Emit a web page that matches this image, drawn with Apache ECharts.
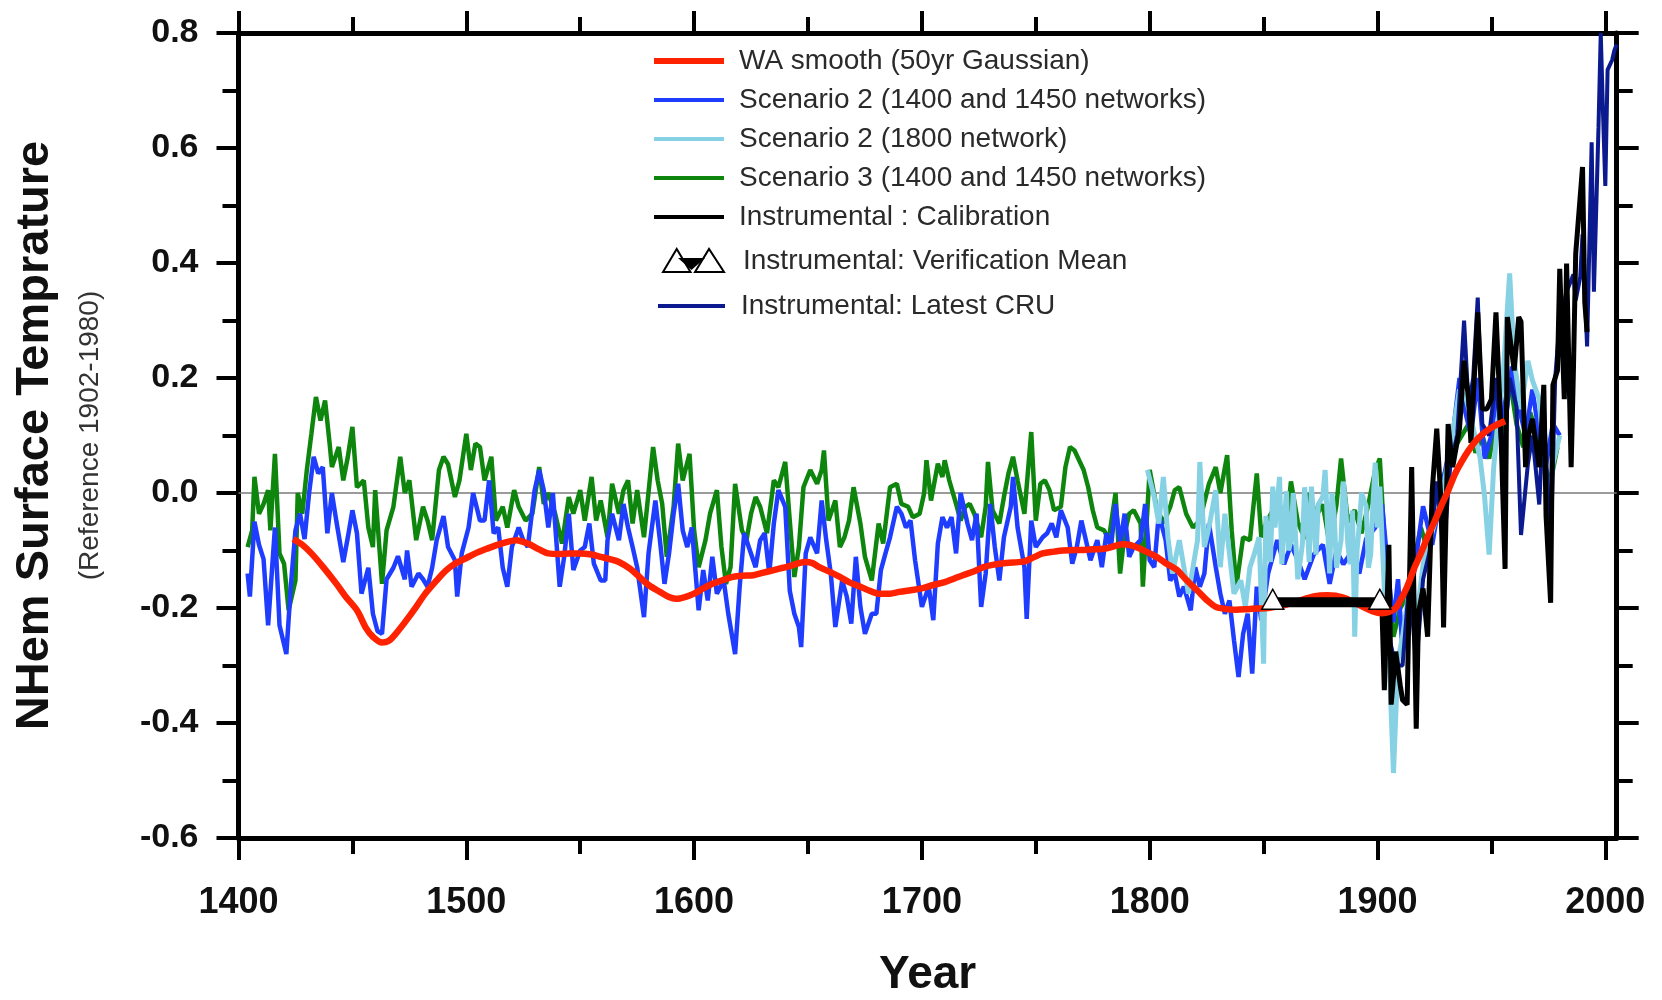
<!DOCTYPE html>
<html>
  <head>
    <meta charset="utf-8" />
    <title>NHem Surface Temprature</title>
    <script src="https://cdn.jsdelivr.net/npm/echarts@6/dist/echarts.min.js"></script>
    <style>
      * {
        margin: 0;
        padding: 0;
        box-sizing: border-box;
      }
      body {
        background: #fff;
      }
    </style>
  </head>
  <body>
    <div id="main" style="width: 1662px; height: 1000px"></div>
    <script type="text/javascript">
      // 数据: [year, value]
      const waSmooth = [
        [1424, -0.08], [1428, -0.09], [1432, -0.105], [1437, -0.128], [1443, -0.158], [1447, -0.18],
        [1452, -0.204], [1456, -0.235], [1459, -0.25], [1463, -0.26], [1466, -0.257], [1469, -0.245],
        [1473, -0.225], [1478, -0.198], [1482, -0.175], [1487, -0.152], [1491, -0.135], [1495, -0.123],
        [1500, -0.113], [1504, -0.105], [1509, -0.097], [1513, -0.091], [1518, -0.085], [1522, -0.082],
        [1527, -0.088], [1532, -0.098], [1536, -0.105], [1541, -0.106], [1545, -0.105], [1550, -0.105],
        [1555, -0.107], [1559, -0.111], [1563, -0.115], [1567, -0.12], [1572, -0.132], [1576, -0.146],
        [1580, -0.16], [1585, -0.172], [1589, -0.181], [1592, -0.184], [1596, -0.181], [1600, -0.175],
        [1604, -0.166], [1608, -0.158], [1613, -0.151], [1617, -0.146], [1621, -0.144], [1626, -0.143],
        [1630, -0.139], [1635, -0.134], [1639, -0.13], [1643, -0.126], [1646, -0.122], [1649, -0.12],
        [1652, -0.122], [1655, -0.129], [1660, -0.138], [1664, -0.146], [1668, -0.155], [1673, -0.163],
        [1677, -0.17], [1681, -0.175], [1686, -0.175], [1690, -0.172], [1695, -0.169], [1700, -0.166],
        [1705, -0.16], [1710, -0.155], [1714, -0.149], [1718, -0.143], [1723, -0.136], [1727, -0.129],
        [1731, -0.125], [1736, -0.122], [1740, -0.121], [1745, -0.119], [1749, -0.112], [1753, -0.105],
        [1758, -0.102], [1762, -0.1], [1767, -0.099], [1771, -0.099], [1775, -0.098], [1780, -0.097],
        [1784, -0.093], [1788, -0.089], [1791, -0.09], [1794, -0.094], [1798, -0.101], [1803, -0.111],
        [1807, -0.122], [1812, -0.134], [1816, -0.151], [1821, -0.17], [1825, -0.186], [1829, -0.198],
        [1834, -0.202], [1838, -0.203], [1843, -0.202], [1847, -0.201], [1852, -0.2], [1858, -0.196],
        [1865, -0.188], [1872, -0.18], [1878, -0.178], [1885, -0.182], [1892, -0.195], [1898, -0.206],
        [1902, -0.209], [1905, -0.207], [1908, -0.2], [1910, -0.187], [1913, -0.163], [1916, -0.132],
        [1919, -0.105], [1922, -0.076], [1925, -0.05], [1928, -0.022], [1931, 0.004], [1934, 0.033],
        [1937, 0.055], [1940, 0.074], [1943, 0.09], [1946, 0.102], [1949, 0.111], [1952, 0.118],
        [1956, 0.125],
      ];

      const scen2Early = [
        [1404, -0.14], [1405, -0.18], [1407, -0.05], [1409, -0.09], [1411, -0.115], [1413, -0.23],
        [1416, -0.06], [1418, -0.23], [1421, -0.28], [1423, -0.16], [1425, -0.065], [1427, -0.036],
        [1429, -0.08], [1431, 0.0], [1433, 0.063], [1435, 0.034], [1437, 0.045], [1439, -0.07],
        [1441, 0.0], [1443, -0.05], [1446, -0.12], [1448, -0.077], [1450, -0.03], [1452, -0.07],
        [1454, -0.175], [1457, -0.13], [1459, -0.21], [1461, -0.24], [1463, -0.245], [1465, -0.15],
        [1468, -0.13], [1470, -0.11], [1473, -0.15], [1474, -0.1], [1476, -0.163], [1479, -0.14],
        [1481, -0.15], [1483, -0.163], [1485, -0.13], [1487, -0.082], [1490, -0.04], [1492, -0.094],
        [1495, -0.117], [1496, -0.18], [1498, -0.105], [1501, -0.06], [1503, 0.0], [1506, -0.048],
        [1508, -0.048], [1510, 0.022], [1512, -0.07], [1514, -0.06], [1516, -0.13], [1518, -0.163],
        [1520, -0.094], [1523, -0.06], [1525, -0.082], [1527, -0.094], [1530, 0.005], [1532, 0.04],
        [1534, 0.005], [1536, -0.06], [1538, 0.0], [1541, -0.163], [1543, -0.11], [1545, -0.036],
        [1547, -0.134], [1550, -0.1], [1552, -0.094], [1554, -0.053], [1556, -0.123], [1559, -0.152],
        [1561, -0.152], [1562, -0.082], [1564, -0.036], [1567, -0.082], [1569, -0.019], [1571, -0.06],
        [1573, -0.094], [1575, -0.129], [1578, -0.216], [1580, -0.105], [1583, -0.013], [1585, -0.082],
        [1587, -0.158], [1589, -0.105], [1591, -0.036], [1593, 0.016], [1595, -0.065], [1597, -0.094],
        [1599, -0.06], [1602, -0.204], [1604, -0.134], [1606, -0.187], [1608, -0.111], [1610, -0.175],
        [1613, -0.152], [1615, -0.21], [1618, -0.28], [1620, -0.163], [1622, -0.07], [1624, -0.094],
        [1627, -0.129], [1629, -0.082], [1631, -0.07], [1633, -0.14], [1635, -0.053], [1637, 0.005],
        [1640, -0.024], [1642, -0.17], [1644, -0.21], [1646, -0.233], [1647, -0.268], [1649, -0.105],
        [1651, -0.077], [1654, -0.105], [1656, -0.013], [1658, -0.082], [1660, -0.14], [1662, -0.233],
        [1665, -0.152], [1667, -0.18], [1669, -0.227], [1671, -0.111], [1673, -0.198], [1675, -0.245],
        [1678, -0.21], [1680, -0.21], [1682, -0.134], [1684, -0.105], [1686, -0.077], [1689, -0.024],
        [1691, -0.036], [1693, -0.06], [1695, -0.048], [1697, -0.117], [1700, -0.198], [1703, -0.163],
        [1705, -0.221], [1707, -0.088], [1709, -0.042], [1711, -0.06], [1713, -0.042], [1715, -0.105],
        [1717, 0.0], [1720, -0.053], [1722, -0.082], [1724, -0.036], [1726, -0.198], [1728, -0.14],
        [1730, -0.019], [1732, -0.094], [1734, -0.152], [1736, -0.077], [1739, -0.024], [1740, 0.028],
        [1742, -0.06], [1745, -0.129], [1746, -0.219], [1748, -0.048], [1750, -0.094], [1753, -0.077],
        [1755, -0.07], [1757, -0.053], [1759, -0.077], [1761, -0.03], [1764, -0.06], [1766, -0.123],
        [1768, -0.094], [1770, -0.048], [1772, -0.082], [1774, -0.117], [1777, -0.082], [1779, -0.129],
        [1781, -0.07], [1783, -0.094], [1785, -0.019], [1787, -0.088], [1789, -0.036], [1791, -0.111],
        [1793, -0.094], [1796, -0.082], [1798, -0.019], [1800, -0.117], [1802, -0.129], [1804, -0.036],
        [1807, -0.082], [1809, -0.152], [1811, -0.14], [1813, -0.18], [1815, -0.163], [1818, -0.204],
        [1820, -0.129], [1822, -0.163], [1824, -0.14], [1826, -0.053], [1829, -0.129], [1831, -0.175],
        [1833, -0.21], [1835, -0.187], [1837, -0.256], [1839, -0.32], [1841, -0.245], [1843, -0.21],
        [1845, -0.314], [1847, -0.163], [1849, -0.221], [1852, -0.14], [1856, -0.082], [1859, -0.124],
        [1862, -0.09], [1865, -0.116], [1868, -0.15], [1872, -0.107], [1876, -0.09], [1879, -0.158],
        [1882, -0.1], [1885, -0.124], [1889, -0.1], [1892, -0.14], [1895, -0.08], [1899, -0.06],
        [1902, -0.02], [1905, -0.15], [1907, -0.225], [1909, -0.15], [1911, -0.276], [1914, -0.18],
        [1916, -0.14], [1920, -0.023], [1924, -0.09], [1927, -0.02], [1930, 0.045], [1933, 0.1],
        [1936, 0.2], [1938, 0.15], [1941, 0.1], [1944, 0.2], [1947, 0.06], [1950, 0.1], [1953, 0.2],
        [1956, 0.12], [1959, 0.22], [1962, 0.15], [1965, 0.1], [1968, 0.18], [1971, 0.1], [1974, 0.05],
        [1977, 0.12], [1980, 0.1],
      ];

      const scen2Late = [
        [1799, 0.04], [1802, -0.007], [1804, -0.053], [1806, 0.028], [1808, -0.077], [1810, -0.14],
        [1813, -0.082], [1815, -0.129], [1817, -0.175], [1819, -0.129], [1821, -0.082], [1822, 0.054],
        [1824, -0.094], [1826, -0.06], [1829, 0.005], [1831, -0.129], [1833, -0.036], [1835, -0.105],
        [1837, -0.175], [1840, -0.152], [1842, -0.198], [1844, -0.129], [1846, -0.105], [1848, -0.077],
        [1850, -0.297], [1851, -0.04], [1853, -0.12], [1854, 0.011], [1855, -0.06], [1857, 0.028],
        [1858, -0.124], [1860, 0.003], [1861, -0.1], [1862, -0.082], [1863, 0.0], [1865, -0.15],
        [1867, -0.09], [1868, 0.01], [1869, -0.04], [1870, -0.12], [1871, 0.011], [1873, -0.107],
        [1874, -0.02], [1876, -0.006], [1877, 0.04], [1878, -0.05], [1879, -0.14], [1880, 0.0],
        [1881, -0.04], [1882, -0.13], [1884, -0.082], [1885, 0.02], [1886, -0.023], [1887, -0.09],
        [1888, -0.124], [1889, -0.03], [1890, -0.25], [1891, -0.1], [1892, -0.056], [1893, 0.0],
        [1895, -0.023], [1896, -0.13], [1897, -0.107], [1898, -0.02], [1899, 0.053], [1900, -0.06],
        [1901, 0.011], [1903, -0.166], [1905, -0.276], [1907, -0.487], [1909, -0.29], [1911, -0.25],
        [1914, -0.166], [1917, -0.225], [1920, -0.124], [1923, -0.082], [1926, -0.04], [1929, 0.011],
        [1932, 0.078], [1934, 0.129], [1936, 0.18], [1939, 0.163], [1942, 0.112], [1945, 0.062],
        [1947, -0.006], [1949, -0.107], [1951, 0.045], [1953, 0.129], [1955, 0.196], [1958, 0.382],
        [1960, 0.23], [1963, 0.146], [1966, 0.23], [1968, 0.196], [1971, 0.163], [1973, 0.062],
        [1975, -0.04], [1977, 0.05], [1980, 0.1],
      ];

      const scen3 = [
        [1404, -0.094], [1406, -0.065], [1407, 0.028], [1409, -0.036], [1411, -0.019], [1413, 0.005],
        [1414, -0.065], [1416, 0.068], [1418, -0.105], [1420, -0.123], [1422, -0.204], [1425, -0.152],
        [1426, 0.0], [1428, -0.036], [1430, 0.04], [1432, 0.103], [1434, 0.167], [1436, 0.126],
        [1438, 0.161], [1440, 0.086], [1441, 0.045], [1444, 0.08], [1446, 0.022], [1448, 0.063],
        [1450, 0.115], [1452, 0.01], [1455, 0.022], [1457, -0.06], [1459, -0.094], [1460, 0.005],
        [1463, -0.158], [1465, -0.065], [1468, -0.024], [1471, 0.063], [1473, 0.0], [1475, 0.022],
        [1478, -0.082], [1481, -0.024], [1483, -0.048], [1485, -0.082], [1488, 0.04], [1490, 0.063],
        [1492, 0.05], [1495, -0.007], [1497, 0.022], [1500, 0.103], [1502, 0.04], [1504, 0.086],
        [1506, 0.08], [1508, 0.022], [1511, 0.063], [1513, -0.048], [1516, -0.024], [1518, -0.06],
        [1521, 0.005], [1523, -0.024], [1526, -0.048], [1529, -0.036], [1532, 0.045], [1534, -0.019],
        [1536, 0.0], [1539, -0.036], [1542, -0.088], [1545, -0.007], [1547, -0.036], [1550, 0.005],
        [1552, -0.048], [1555, 0.028], [1557, -0.048], [1559, -0.013], [1562, -0.077], [1564, 0.016],
        [1567, -0.036], [1569, 0.005], [1571, 0.022], [1573, -0.053], [1575, 0.005], [1578, -0.077],
        [1582, 0.08], [1584, 0.022], [1586, -0.019], [1588, -0.111], [1591, -0.024], [1593, 0.086],
        [1595, 0.022], [1598, 0.068], [1600, -0.065], [1602, -0.129], [1605, -0.082], [1607, -0.036],
        [1610, 0.005], [1612, -0.094], [1614, -0.158], [1616, -0.129], [1618, 0.016], [1621, -0.065],
        [1623, -0.082], [1625, -0.036], [1627, -0.007], [1629, -0.024], [1632, -0.07], [1635, 0.022],
        [1637, 0.01], [1640, 0.054], [1642, -0.048], [1644, -0.146], [1646, -0.094], [1648, 0.01],
        [1651, 0.04], [1654, 0.016], [1656, 0.04], [1657, 0.074], [1659, -0.048], [1662, -0.013],
        [1664, -0.094], [1666, -0.077], [1668, -0.048], [1670, 0.01], [1673, -0.053], [1675, -0.111],
        [1678, -0.152], [1681, -0.053], [1683, -0.088], [1686, 0.01], [1689, 0.016], [1691, -0.019],
        [1694, -0.024], [1696, -0.042], [1699, -0.036], [1701, 0.0], [1702, 0.057], [1704, -0.013],
        [1707, 0.051], [1709, 0.028], [1710, 0.057], [1712, 0.022], [1715, -0.019], [1717, -0.048],
        [1719, -0.024], [1721, -0.019], [1723, -0.036], [1726, -0.077], [1728, -0.024], [1729, 0.054],
        [1731, -0.03], [1734, -0.053], [1736, -0.007], [1738, 0.034], [1740, 0.063], [1742, 0.022],
        [1745, -0.036], [1748, 0.106], [1750, -0.048], [1752, 0.016], [1754, 0.022], [1756, 0.005],
        [1758, -0.03], [1761, -0.024], [1763, 0.045], [1765, 0.08], [1767, 0.074], [1769, 0.057],
        [1771, 0.04], [1773, 0.01], [1775, -0.03], [1777, -0.06], [1780, -0.065], [1782, -0.082],
        [1785, 0.0], [1787, -0.14], [1789, -0.07], [1791, -0.036], [1793, -0.03], [1796, -0.053],
        [1797, -0.163], [1800, 0.04], [1803, -0.024], [1806, -0.053], [1809, -0.024], [1811, 0.005],
        [1813, 0.01], [1816, -0.036], [1819, -0.06], [1822, -0.048], [1826, 0.016], [1829, 0.045],
        [1831, 0.0], [1834, 0.066], [1836, -0.065], [1838, -0.163], [1841, -0.077], [1844, -0.082],
        [1847, 0.034], [1849, -0.077], [1851, -0.053], [1854, -0.03], [1857, -0.02], [1860, -0.06],
        [1862, 0.02], [1865, -0.05], [1868, -0.08], [1870, 0.0], [1873, -0.04], [1876, -0.02],
        [1879, -0.09], [1882, -0.02], [1884, 0.06], [1887, -0.05], [1890, -0.03], [1893, -0.07],
        [1896, -0.02], [1899, 0.04], [1901, 0.06], [1904, -0.15], [1907, -0.25], [1910, -0.2],
        [1913, -0.18], [1916, -0.12], [1919, -0.06], [1922, -0.1], [1925, -0.02], [1928, 0.02],
        [1931, 0.05], [1934, 0.08], [1937, 0.1], [1940, 0.12], [1943, 0.07], [1946, 0.1], [1949, 0.06],
        [1952, 0.12], [1955, 0.1], [1958, 0.2], [1961, 0.12], [1964, 0.08], [1967, 0.14], [1970, 0.1],
        [1973, 0.05], [1976, 0.02], [1979, 0.08],
      ];

      const instCal = [
        [1902, -0.208], [1903, -0.343], [1905, -0.09], [1906, -0.368], [1908, -0.276], [1910, -0.335],
        [1911, -0.36], [1913, -0.368], [1915, 0.045], [1917, -0.41], [1918, -0.208], [1920, -0.166],
        [1922, -0.25], [1924, 0.003], [1926, 0.112], [1928, -0.023], [1929, -0.234], [1931, 0.12],
        [1933, 0.045], [1936, 0.112], [1938, 0.23], [1940, 0.163], [1941, 0.087], [1944, 0.314],
        [1946, 0.146], [1948, 0.146], [1950, 0.163], [1952, 0.314], [1954, 0.129], [1956, -0.132],
        [1957, 0.306], [1960, 0.213], [1962, 0.306], [1963, 0.298], [1965, 0.045], [1966, 0.095],
        [1968, 0.129], [1971, 0.045], [1973, 0.188], [1974, -0.04], [1976, -0.191], [1977, 0.188],
        [1979, 0.213], [1980, 0.39], [1982, 0.163], [1983, 0.399], [1985, 0.045], [1986, 0.213],
        [1987, 0.416], [1990, 0.567], [1991, 0.331], [1992, 0.28],
      ];

      const instCru = [
        [1902, -0.2], [1905, -0.25], [1908, -0.3], [1911, -0.3], [1914, -0.15], [1917, -0.3],
        [1920, -0.15], [1923, -0.1], [1926, 0.02], [1929, -0.1], [1932, 0.05], [1935, 0.1],
        [1938, 0.3], [1940, 0.15], [1942, 0.2], [1944, 0.34], [1946, 0.12], [1949, 0.1], [1952, 0.2],
        [1955, 0.05], [1958, 0.2], [1961, 0.15], [1963, -0.073], [1966, 0.05], [1968, 0.1],
        [1971, -0.02], [1973, 0.15], [1976, -0.1], [1978, 0.2], [1980, 0.3], [1983, 0.35],
        [1986, 0.38], [1987, 0.335], [1989, 0.376], [1990, 0.45], [1992, 0.255], [1994, 0.61],
        [1995, 0.35], [1997, 0.635], [1998, 0.8], [1999, 0.66], [2000, 0.534], [2001, 0.736],
        [2003, 0.753], [2004, 0.77], [2005, 0.78],
      ];

      const verifMean = [[1854, -0.19], [1901, -0.19]];
      const zeroRef = [[1400, 0], [2005, 0]];
      const yearTicks = [1400, 1500, 1600, 1700, 1800, 1900, 2000];

      const names = {
        smooth: "WA smooth (50yr Gaussian)",
        s2: "Scenario 2 (1400 and 1450 networks)",
        s2b: "Scenario 2 (1800 network)",
        s3: "Scenario 3 (1400 and 1450 networks)",
        cal: "Instrumental : Calibration",
        verif: "Instrumental: Verification Mean",
        cru: "Instrumental: Latest CRU",
      };

      const colors = {
        smooth: "#ff2200",
        s2: "#1f3dff",
        s2b: "#86d2e4",
        s3: "#0e860e",
        cal: "#000000",
        cru: "#0b1a8f",
      };

      const FONT = "'Liberation Sans', Arial, sans-serif";

      // 图例图标 (前两个 M 只用来撑开 80x26 的盒子)
      const lineIcon = "path://M0,0M80,26M0,11H70V15H0Z";
      const thickIcon = "path://M0,0M80,26M0,10H70V16H0Z";
      const cruIcon = "path://M0,0M80,26M2,11H69V15H2Z";
      const triIcon = "path://M0,0M80,26M5,24L18.7,1L32.5,24ZM37,24L51,1L66,24Z";
      const midIcon = "path://M0,0M80,26M21,10H48L34.5,22Z";

      const legendBase = {
        orient: "vertical",
        padding: 0,
        itemWidth: 80,
        itemHeight: 26,
        itemGap: 11,
        selectedMode: false,
        textStyle: { fontSize: 28, color: "#2a2a2a", fontFamily: FONT },
      };

      function lineItem(key, icon) {
        return {
          name: names[key],
          icon: icon,
          itemStyle: { color: colors[key], borderWidth: 0 },
        };
      }

      const axisLineStyle = { color: "#000", width: 5 };
      const tickStyle = { color: "#000", width: 4 };

      function xAxisDef(pos, withLabel) {
        return {
          type: "value",
          position: pos,
          min: 1400,
          max: 2005,
          interval: 100,
          axisLine: { show: true, onZero: false, lineStyle: axisLineStyle },
          axisTick: { show: true, length: 22, lineStyle: tickStyle, customValues: yearTicks },
          minorTick: { show: true, splitNumber: 2, length: 16, lineStyle: tickStyle },
          splitLine: { show: false },
          axisLabel: withLabel
            ? {
                show: true,
                customValues: yearTicks,
                margin: 47,
                fontSize: 36,
                fontWeight: "bold",
                color: "#111",
                fontFamily: FONT,
                formatter: (v) => String(v),
              }
            : { show: false },
        };
      }

      function yAxisDef(pos, withLabel) {
        return {
          type: "value",
          position: pos,
          min: -0.6,
          max: 0.8,
          interval: 0.2,
          axisLine: { show: true, onZero: false, lineStyle: axisLineStyle },
          axisTick: { show: true, length: 22, lineStyle: tickStyle },
          minorTick: { show: true, splitNumber: 2, length: 16, lineStyle: tickStyle },
          splitLine: { show: false },
          axisLabel: withLabel
            ? {
                show: true,
                margin: 40,
                fontSize: 34,
                fontWeight: "bold",
                color: "#111",
                fontFamily: FONT,
                formatter: (v) => v.toFixed(1),
              }
            : { show: false },
        };
      }

      const xMain = xAxisDef("bottom", true);
      xMain.name = "Year";
      xMain.nameLocation = "middle";
      xMain.nameGap = 114;
      xMain.nameTextStyle = { fontSize: 46, fontWeight: "bold", color: "#111", fontFamily: FONT };

      const yMain = yAxisDef("left", true);
      yMain.name = "NHem Surface Temprature";
      yMain.nameLocation = "middle";
      yMain.nameGap = 180;
      yMain.nameTextStyle = { fontSize: 47, fontWeight: "bold", color: "#111", fontFamily: FONT };

      // 只用来放副标题
      const ySub = {
        type: "value",
        position: "left",
        min: -0.6,
        max: 0.8,
        axisLine: { show: false },
        axisTick: { show: false },
        axisLabel: { show: false },
        splitLine: { show: false },
        name: "(Reference 1902-1980)",
        nameLocation: "middle",
        nameGap: 134,
        nameTextStyle: { fontSize: 28, color: "#333", fontFamily: FONT },
      };

      function noisy(key, data, width, z) {
        return {
          name: names[key],
          type: "line",
          data: data,
          symbol: "none",
          lineStyle: { color: colors[key], width: width },
          itemStyle: { color: colors[key] },
          z: z,
          silent: true,
        };
      }

      var myChart = echarts.init(document.getElementById("main"));

      var option = {
        animation: false,
        backgroundColor: "#fff",
        grid: {
          left: 238.5,
          right: 45.3,
          top: 33,
          bottom: 162,
          containLabel: false,
          outerBoundsMode: "none",
        },
        legend: [
          Object.assign({}, legendBase, {
            left: 654,
            top: 47,
            data: [
              lineItem("smooth", thickIcon),
              lineItem("s2", lineIcon),
              lineItem("s2b", lineIcon),
              lineItem("s3", lineIcon),
              lineItem("cal", lineIcon),
            ],
          }),
          Object.assign({}, legendBase, {
            left: 657,
            top: 247,
            data: [
              {
                name: names.verif,
                icon: triIcon,
                itemStyle: { color: "#fff", borderColor: "#000", borderWidth: 2 },
              },
            ],
          }),
          // 中间的黑色倒三角
          Object.assign({}, legendBase, {
            left: 657,
            top: 247,
            textStyle: { fontSize: 28, color: "rgba(0,0,0,0)", fontFamily: FONT },
            data: [
              {
                name: names.verif,
                icon: midIcon,
                itemStyle: { color: "#000", borderWidth: 0 },
              },
            ],
          }),
          Object.assign({}, legendBase, {
            left: 656,
            top: 292,
            data: [lineItem("cru", cruIcon)],
          }),
        ],
        xAxis: [xMain, xAxisDef("top", false)],
        yAxis: [yMain, yAxisDef("right", false), ySub],
        series: [
          {
            name: "zero",
            type: "line",
            data: zeroRef,
            symbol: "none",
            lineStyle: { color: "#7a7a7a", width: 1.5 },
            z: 1,
            silent: true,
          },
          noisy("s3", scen3, 4.5, 2),
          noisy("s2", scen2Early, 4.5, 3),
          noisy("s2b", scen2Late, 5, 4),
          noisy("cru", instCru, 4, 5),
          noisy("cal", instCal, 5, 6),
          {
            name: names.smooth,
            type: "line",
            data: waSmooth,
            symbol: "none",
            smooth: 0.3,
            lineStyle: { color: colors.smooth, width: 6.5 },
            itemStyle: { color: colors.smooth },
            z: 7,
            silent: true,
          },
          {
            name: names.verif,
            type: "line",
            data: verifMean,
            symbol: "triangle",
            symbolSize: [22, 20],
            symbolOffset: [0, -3],
            showSymbol: true,
            lineStyle: { color: "#000", width: 10 },
            itemStyle: { color: "#fff", borderColor: "#000", borderWidth: 1.5 },
            z: 8,
            silent: true,
          },
        ],
      };

      myChart.setOption(option);

      window.addEventListener("resize", function () {
        myChart.resize();
      });
    </script>
  </body>
</html>
